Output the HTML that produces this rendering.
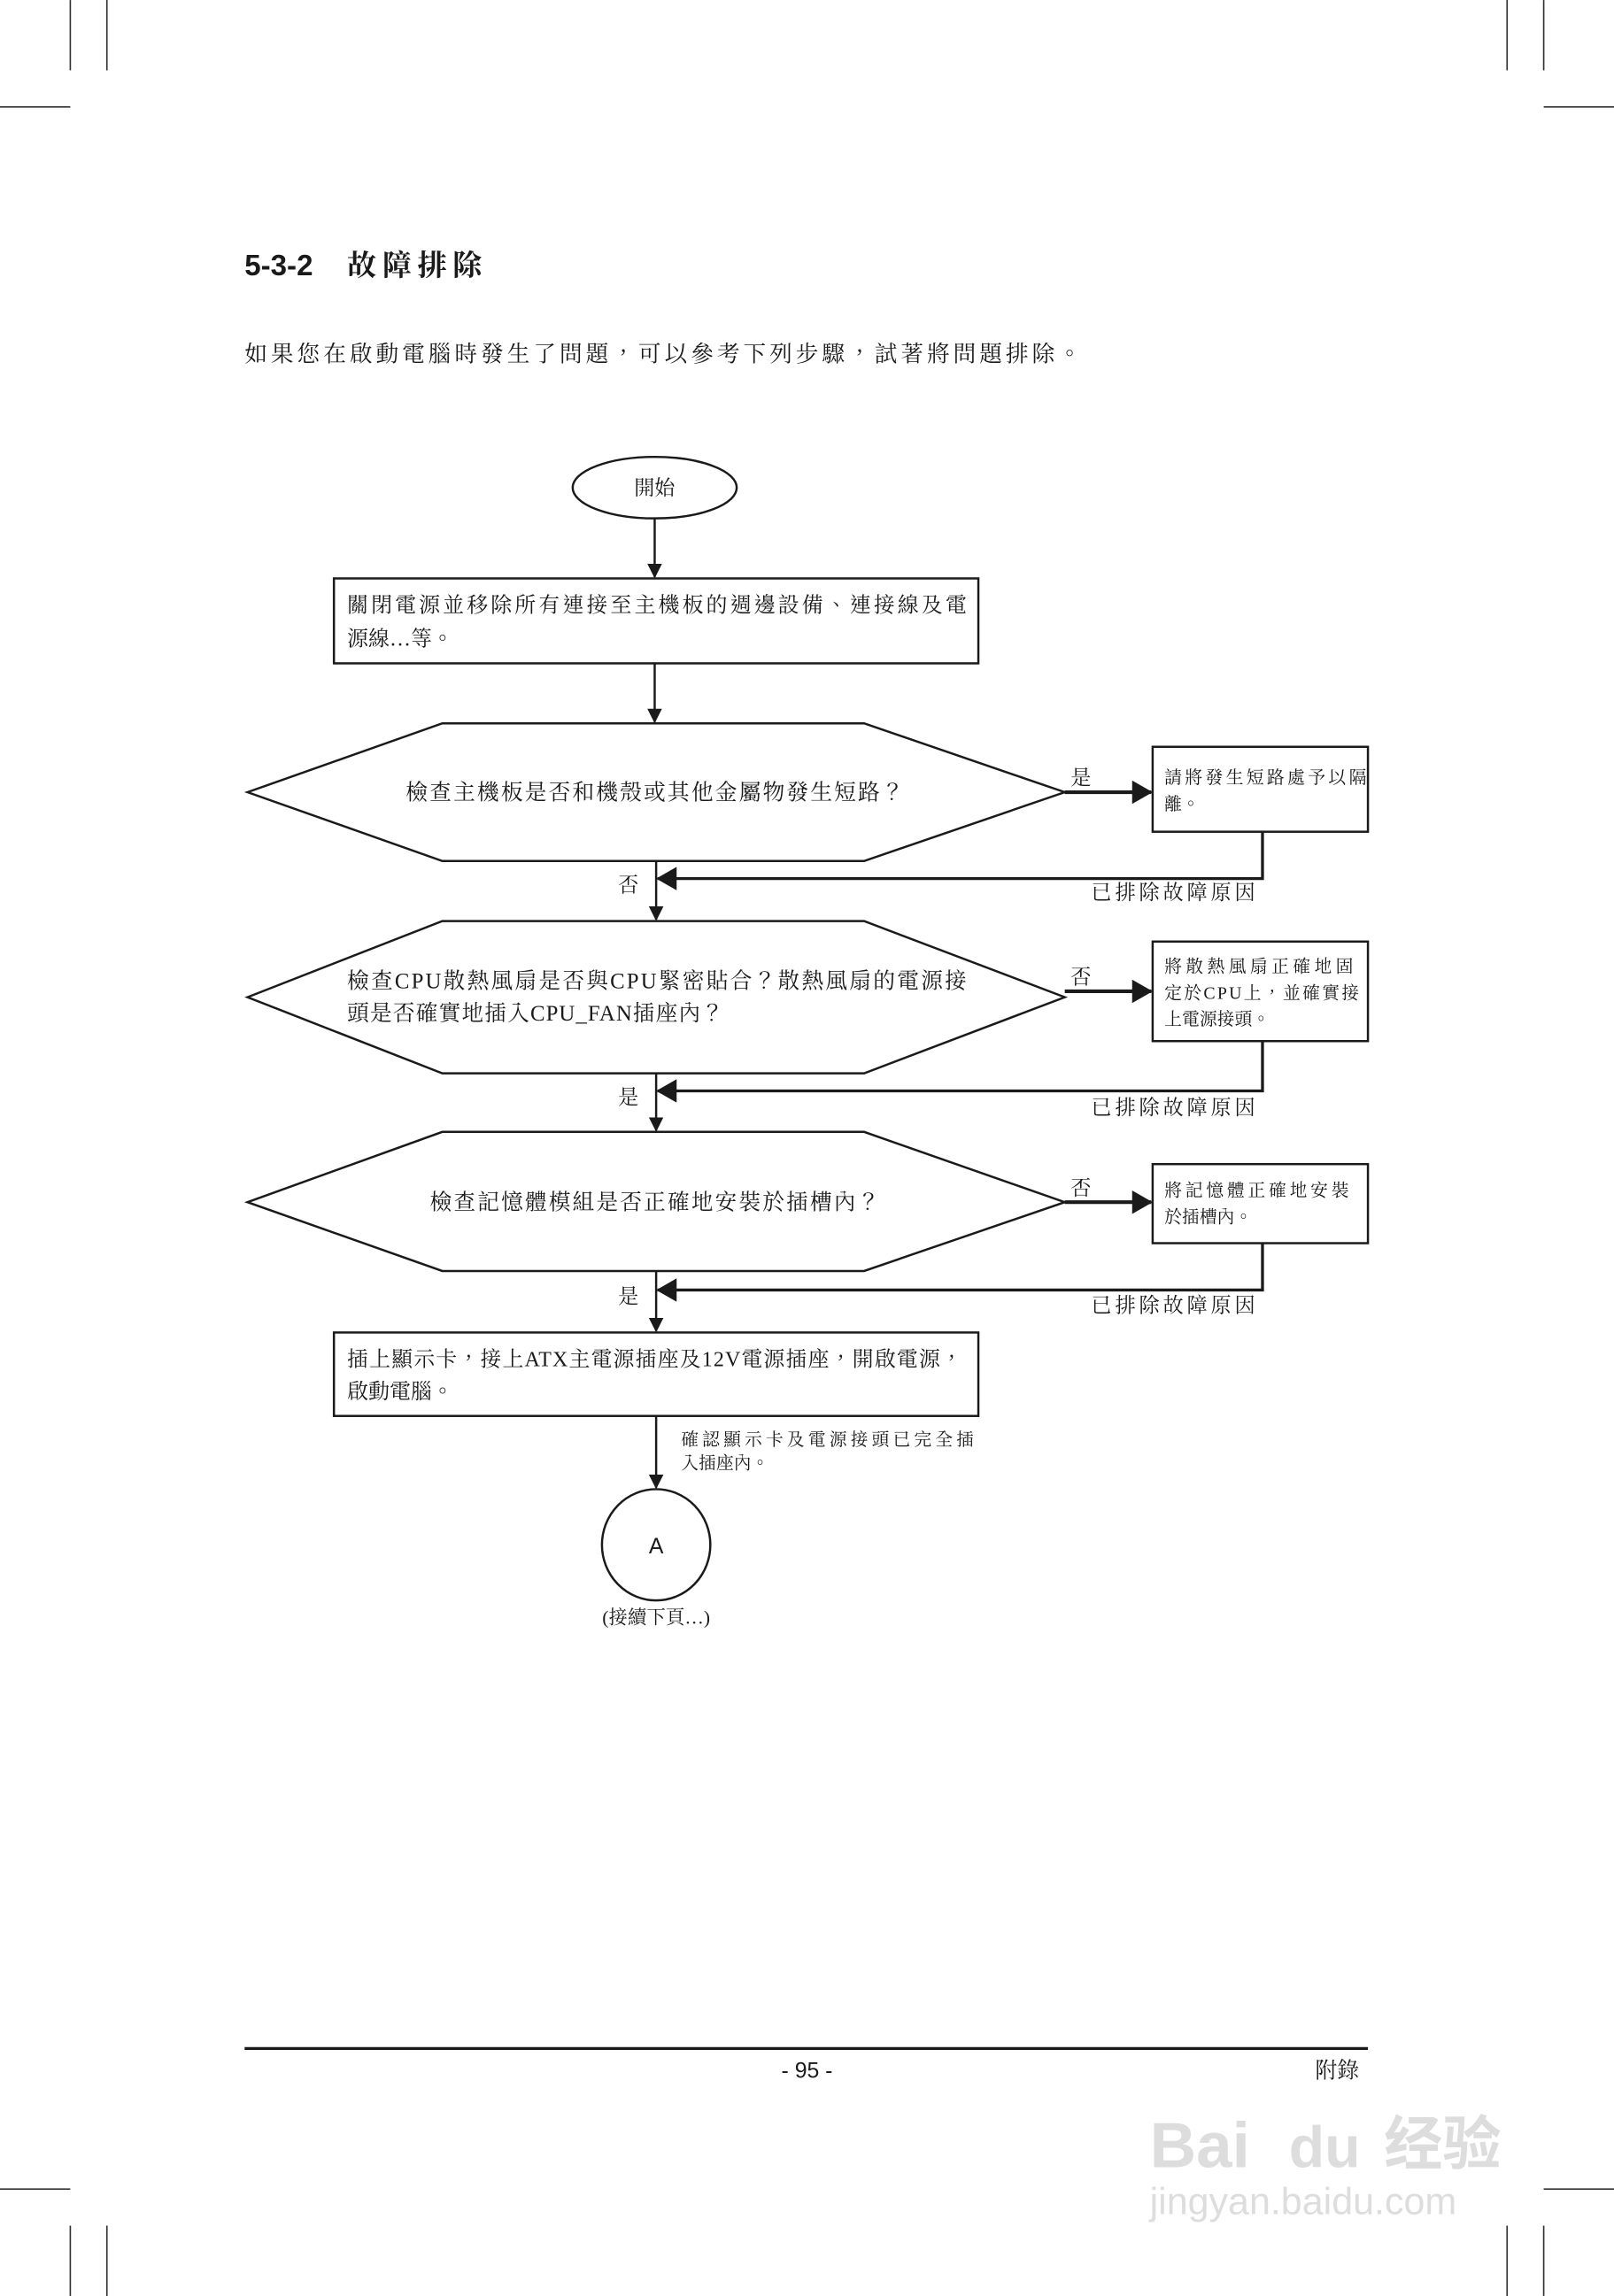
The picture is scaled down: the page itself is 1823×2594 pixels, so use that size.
<!DOCTYPE html>
<html><head><meta charset="utf-8"><style>
html,body{margin:0;padding:0;background:#fff;}
svg{display:block;}
text{font-family:"Liberation Serif","Noto Serif CJK TC","Noto Serif CJK SC",serif;fill:#1a1a1a;}
.s{font-family:"Liberation Sans","Noto Sans CJK TC",sans-serif;}
</style></head><body>
<svg width="1823" height="2594" viewBox="0 0 1102 1568" xmlns="http://www.w3.org/2000/svg">
<defs><marker id="a" markerWidth="10" markerHeight="10" refX="9" refY="5" orient="auto" markerUnits="userSpaceOnUse"><path d="M0,0 L10,5 L0,10 z" fill="#1a1a1a"/></marker>
<marker id="b" markerWidth="14" markerHeight="16" refX="13" refY="8" orient="auto" markerUnits="userSpaceOnUse"><path d="M0,0 L14,8 L0,16 z" fill="#1a1a1a"/></marker></defs>
<g stroke="#333" stroke-width="1">
<line x1="48" y1="0" x2="48" y2="48"/><line x1="73" y1="0" x2="73" y2="48"/><line x1="0" y1="73" x2="48" y2="73"/>
<line x1="1029" y1="0" x2="1029" y2="48"/><line x1="1054" y1="0" x2="1054" y2="48"/><line x1="1054" y1="73" x2="1102" y2="73"/>
<line x1="0" y1="1495" x2="48" y2="1495"/><line x1="48" y1="1520" x2="48" y2="1568"/><line x1="73" y1="1520" x2="73" y2="1568"/>
<line x1="1054" y1="1495" x2="1102" y2="1495"/><line x1="1029" y1="1520" x2="1029" y2="1568"/><line x1="1054" y1="1520" x2="1054" y2="1568"/>
</g>
<text class="s" x="167" y="188" font-size="20" font-weight="bold">5-3-2</text>
<text x="237" y="188" font-size="20" font-weight="bold" textLength="92">故障排除</text>
<text x="167" y="247" font-size="15.5" textLength="571">如果您在啟動電腦時發生了問題，可以參考下列步驟，試著將問題排除。</text>

<g stroke="#1a1a1a" stroke-width="1.5" fill="none">
<ellipse cx="447" cy="333" rx="56" ry="21"/>
<rect x="228" y="395" width="440" height="58"/>
<polygon points="169,541 302,494 590,494 727,541 590,588 302,588"/>
<rect x="787" y="510" width="147" height="58"/>
<polygon points="169,681 302,629 590,629 727,681 590,733 302,733"/>
<rect x="787" y="643" width="147" height="68"/>
<polygon points="169,821 302,773 590,773 727,821 590,868 302,868"/>
<rect x="787" y="795" width="147" height="54"/>
<rect x="228" y="910" width="440" height="57"/>
<ellipse cx="448" cy="1055" rx="37" ry="38"/>
</g>
<g stroke="#1a1a1a" stroke-width="1.5" fill="none" marker-end="url(#a)">
<line x1="447" y1="354" x2="447" y2="394"/>
<line x1="447" y1="453" x2="447" y2="493"/>
<line x1="448" y1="588" x2="448" y2="628"/>
<line x1="448" y1="733" x2="448" y2="772"/>
<line x1="448" y1="868" x2="448" y2="909"/>
<line x1="448" y1="967" x2="448" y2="1016"/>
<line x1="727" y1="541" x2="786" y2="541" stroke-width="2.5" marker-end="url(#b)"/>
<line x1="727" y1="677" x2="786" y2="677" stroke-width="2.5" marker-end="url(#b)"/>
<line x1="727" y1="821" x2="786" y2="821" stroke-width="2.5" marker-end="url(#b)"/>
<polyline points="862,568 862,600 449,600" stroke-width="2" marker-end="url(#b)"/>
<polyline points="862,711 862,745 449,745" stroke-width="2" marker-end="url(#b)"/>
<polyline points="862,849 862,881 449,881" stroke-width="2" marker-end="url(#b)"/>
</g>

<text x="447" y="338" font-size="14" text-anchor="middle">開始</text>
<text x="237" y="418" font-size="14.5" textLength="423">關閉電源並移除所有連接至主機板的週邊設備、連接線及電</text>
<text x="237" y="441" font-size="14.5">源線…等。</text>
<text x="447" y="546" font-size="15" text-anchor="middle" textLength="340">檢查主機板是否和機殼或其他金屬物發生短路？</text>
<text x="237" y="675" font-size="15" textLength="423">檢查CPU散熱風扇是否與CPU緊密貼合？散熱風扇的電源接</text>
<text x="237" y="697" font-size="15" textLength="257">頭是否確實地插入CPU_FAN插座內？</text>
<text x="447" y="826" font-size="15" text-anchor="middle" textLength="307">檢查記憶體模組是否正確地安裝於插槽內？</text>
<text x="237" y="933" font-size="14.5" textLength="420">插上顯示卡，接上ATX主電源插座及12V電源插座，開啟電源，</text>
<text x="237" y="955" font-size="14.5">啟動電腦。</text>

<g font-size="12">
<text x="795" y="535" textLength="138">請將發生短路處予以隔</text>
<text x="795" y="553">離。</text>
<text x="795" y="664" textLength="129">將散熱風扇正確地固</text>
<text x="795" y="682" textLength="133">定於CPU上，並確實接</text>
<text x="795" y="700">上電源接頭。</text>
<text x="795" y="817" textLength="126">將記憶體正確地安裝</text>
<text x="795" y="835">於插槽內。</text>
<text x="465" y="987" textLength="200">確認顯示卡及電源接頭已完全插</text>
<text x="465" y="1003">入插座內。</text>
</g>
<g font-size="14">
<text x="731" y="536">是</text><text x="731" y="672">否</text><text x="731" y="816">否</text>
<text x="422" y="609">否</text><text x="422" y="754">是</text><text x="422" y="890">是</text>
<text x="745" y="614" textLength="112">已排除故障原因</text>
<text x="745" y="761" textLength="112">已排除故障原因</text>
<text x="745" y="896" textLength="112">已排除故障原因</text>
</g>
<text class="s" x="448" y="1061" font-size="15" text-anchor="middle">A</text>
<text x="448" y="1109" font-size="13" text-anchor="middle">(接續下頁…)</text>

<line x1="167" y1="1399" x2="934" y2="1399" stroke="#1a1a1a" stroke-width="2"/>
<text class="s" x="551" y="1419" font-size="15" text-anchor="middle">- 95 -</text>
<text x="898" y="1419" font-size="15">附錄</text>
<text class="s" x="785" y="1480" font-size="44" font-weight="bold" fill="#ddd" style="fill:#ddd">Bai</text>
<text class="s" x="880" y="1480" font-size="40" font-weight="bold" style="fill:#ddd">du</text>
<text class="s" x="945" y="1478" font-size="40" font-weight="bold" style="fill:#ddd">经验</text>
<text class="s" x="785" y="1512" font-size="26" style="fill:#ddd">jingyan.baidu.com</text>
</svg>
</body></html>
